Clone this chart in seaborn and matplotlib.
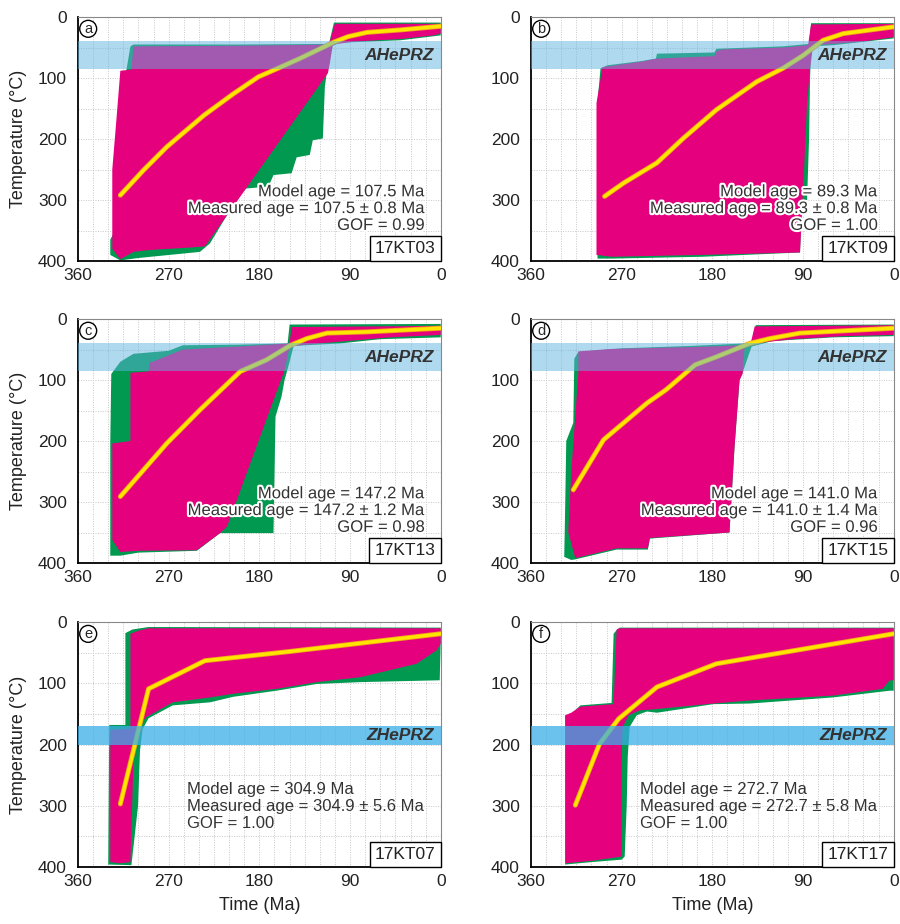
import matplotlib
matplotlib.use("Agg")
import matplotlib.pyplot as plt
import matplotlib.patheffects as pe
from matplotlib.offsetbox import AnchoredText
import numpy as np
import pandas as pd
import seaborn as sns

sns.set_style("white")
plt.rcParams['font.family'] = ['Liberation Sans', 'DejaVu Sans']

# ------------------------------------------------------------------
# data: (time Ma, temperature degC) vertices
# ------------------------------------------------------------------
green_a = [(328, 390), (328, 365), (324, 352), (324, 250), (320, 160), (312, 87), (308, 48), (305, 45),
           (200, 45), (111, 44), (106, 9), (0, 9), (0, 30), (40, 38), (100, 42), (111, 50), (113, 90),
           (115, 114), (117, 199), (127, 202), (130, 226), (143, 230), (148, 256), (166, 259), (171, 278),
           (193, 281), (199, 289), (229, 371), (239, 385), (300, 395), (318, 399)]
pink_a = [(318, 397), (326, 380), (326, 250), (322, 170), (318, 88), (307, 86), (305, 48), (200, 47),
          (111, 45), (105, 11), (0, 11), (0, 27), (7, 30), (40, 36), (85, 40), (107, 45), (110, 75),
          (112, 92), (234, 376), (250, 378), (290, 382), (305, 385)]
path_a = [(318, 292), (295, 251), (272, 213), (235, 161), (206, 126), (181, 98), (163, 85), (140, 68),
          (106, 41), (92, 32), (73, 25), (40, 21), (0, 15)]

green_b = [(294, 396), (294, 140), (291, 84), (284, 79), (250, 72), (236, 68), (235, 60), (178, 58),
           (176, 52), (110, 48), (84, 44), (82, 10), (0, 10), (0, 35), (60, 46), (82, 48), (83, 100),
           (84, 200), (86, 300), (91, 300), (93, 386), (190, 393), (280, 396)]
pink_b = [(295, 390), (295, 141), (290, 92), (289, 82), (250, 73), (235, 68), (178, 64), (176, 56),
          (170, 53), (110, 50), (85, 46), (82, 12), (0, 11), (0, 33), (30, 40), (60, 44), (80, 46),
          (83, 85), (86, 140), (89, 250), (93, 386), (190, 390), (280, 393)]
path_b = [(287, 294), (268, 272), (235, 239), (209, 199), (176, 152), (136, 106), (110, 84), (90, 63),
          (70, 38), (50, 27), (0, 16)]

green_c = [(328, 388), (328, 300), (328, 204), (327, 90), (318, 70), (305, 57), (270, 52), (256, 43),
           (200, 42), (152, 40), (150, 9), (0, 8), (0, 30), (60, 33), (100, 40), (146, 44), (150, 70),
           (155, 100), (158, 127), (164, 160), (166, 351), (219, 351), (242, 380), (300, 383), (318, 388)]
pink_c = [(318, 382), (326, 362), (326, 204), (308, 200), (308, 88), (290, 86), (289, 72), (256, 50),
          (200, 45), (150, 40), (148, 13), (60, 12), (0, 11), (0, 26), (50, 30), (100, 37), (140, 43),
          (150, 45), (155, 84), (212, 340), (219, 351), (242, 379), (300, 380)]
path_c = [(318, 291), (272, 204), (239, 149), (199, 86), (173, 67), (149, 43), (133, 32), (113, 23),
          (73, 21), (0, 15)]

green_d = [(320, 395), (327, 390), (326, 300), (325, 200), (318, 170), (317, 65), (313, 54), (270, 48),
           (200, 44), (148, 40), (139, 40), (137, 10), (0, 9), (0, 28), (60, 30), (120, 36), (141, 45),
           (150, 88), (153, 100), (158, 210), (163, 350), (242, 360), (244, 378), (275, 378), (316, 394)]
pink_d = [(316, 392), (323, 350), (320, 250), (313, 90), (313, 53), (280, 49), (230, 47), (200, 46),
          (150, 43), (142, 40), (138, 12), (60, 11), (0, 10), (0, 26), (50, 28), (100, 33), (128, 38),
          (148, 44), (150, 90), (153, 100), (158, 210), (163, 350), (242, 359), (244, 376), (275, 376)]
path_d = [(318, 280), (288, 198), (245, 138), (226, 116), (197, 75), (176, 62), (143, 40), (123, 32),
          (93, 23), (0, 15)]

green_e = [(307, 397), (330, 396), (329, 168), (313, 168), (313, 18), (306, 12), (290, 8), (0, 9),
           (0, 30), (1, 95), (80, 98), (123, 101), (163, 112), (206, 122), (229, 131), (266, 136),
           (290, 157), (296, 175), (298.5, 210), (300.5, 301), (307, 397)]
pink_e = [(328, 392), (328, 176), (308, 174), (308, 19), (300, 14), (290, 10), (0, 10), (0, 35),
          (4, 46), (24, 68), (80, 90), (123, 98), (163, 109), (206, 117), (229, 123), (266, 131),
          (292, 155), (302, 172), (305, 226), (307, 340), (308, 392), (318, 394)]
path_e = [(318, 297), (290, 109), (234, 63), (150, 48), (0, 19)]

green_f = [(326, 396), (326, 153), (320, 150), (311, 136), (280, 132), (278, 19), (275, 13), (272, 9),
           (0, 9), (0, 112), (4, 112), (60, 123), (143, 133), (179, 134), (235, 148), (245, 146),
           (255, 152), (262, 171), (264, 220), (265, 300), (267, 383), (270, 388), (300, 392)]
pink_f = [(326, 394), (326, 152), (320, 148), (311, 138), (278, 134), (275, 12), (272, 10), (0, 10),
          (0, 95), (4, 95), (11, 109), (60, 120), (143, 128), (179, 133), (242, 143), (252, 144),
          (263, 152), (269, 171), (270, 220), (270, 383), (300, 390)]
path_f = [(316, 299), (292, 199), (273, 158), (235, 106), (176, 68), (0, 19)]

letters = ['a', 'b', 'c', 'd', 'e', 'f']
samples = ['17KT03', '17KT09', '17KT13', '17KT15', '17KT07', '17KT17']
model_ages = ['107.5', '89.3', '147.2', '141.0', '304.9', '272.7']
measured_errs = ['0.8', '0.8', '1.2', '1.4', '5.6', '5.8']
gof = ['0.99', '1.00', '0.98', '0.96', '1.00', '1.00']
prz_names = ['AHePRZ', 'AHePRZ', 'AHePRZ', 'AHePRZ', 'ZHePRZ', 'ZHePRZ']
prz_ranges = [(40, 85), (40, 85), (40, 85), (40, 85), (170, 200), (170, 200)]

greens = [green_a, green_b, green_c, green_d, green_e, green_f]
pinks = [pink_a, pink_b, pink_c, pink_d, pink_e, pink_f]
paths = [path_a, path_b, path_c, path_d, path_e, path_f]

GREEN = '#00994f'
PINK = '#e5007e'
YELLOW = '#ffe500'

fig = plt.figure(figsize=(9, 9.24), dpi=100)
positions = [
    [0.0867, 0.7175, 0.403, 0.264], [0.590, 0.7175, 0.403, 0.264],
    [0.0867, 0.3907, 0.403, 0.264], [0.590, 0.3907, 0.403, 0.264],
    [0.0867, 0.0617, 0.403, 0.265], [0.590, 0.0617, 0.403, 0.265],
]

halo = [pe.withStroke(linewidth=3, foreground='white')]

for i in range(6):
    ax = fig.add_axes(positions[i])

    # dotted grid
    for gx in np.arange(15, 360, 15):
        ax.axvline(gx, color='#c8c8c8', lw=0.7, ls=(0, (1, 1.5)), zorder=0)
    for gy in np.arange(50, 400, 50):
        ax.axhline(gy, color='#c8c8c8', lw=0.7, ls=(0, (1, 1.5)), zorder=0)

    g = np.array(greens[i])
    p = np.array(pinks[i])
    ax.fill(g[:, 0], g[:, 1], color=GREEN, lw=0, zorder=1)
    ax.fill(p[:, 0], p[:, 1], color=PINK, lw=0, zorder=2)

    df = pd.DataFrame(paths[i], columns=['time', 'temp'])
    sns.lineplot(data=df, x='time', y='temp', sort=False, color=YELLOW, lw=2.4, ax=ax, zorder=3,
                 path_effects=[pe.Stroke(linewidth=3.6, foreground='#f0a020'), pe.Normal()])

    lo, hi = prz_ranges[i]
    if i < 4:
        ax.axhspan(lo, hi, color='#5fb4e0', alpha=0.5, lw=0, zorder=4)
    else:
        ax.axhspan(lo, hi, color='#3aaee6', alpha=0.75, lw=0, zorder=4)
    ax.text(7, (lo + hi) / 2, prz_names[i], ha='right', va='center', fontsize=12.5,
            fontweight='bold', fontstyle='italic', color='#333333', zorder=6)

    txt = (f"Model age = {model_ages[i]} Ma\n"
           f"Measured age = {model_ages[i]} \u00b1 {measured_errs[i]} Ma\n"
           f"GOF = {gof[i]}")
    if i < 4:
        ax.text(16, 314, txt, ha='right', va='center', multialignment='right', fontsize=12,
                color='#333333', linespacing=1.15, zorder=6, path_effects=halo)
    else:
        ax.text(252, 301, txt, ha='left', va='center', multialignment='left', fontsize=12,
                color='#333333', linespacing=1.15, zorder=6)

    at = AnchoredText(samples[i], loc='lower right', borderpad=0, pad=0.3,
                      prop=dict(size=12.5, color='#222222'), frameon=True)
    at.patch.set_edgecolor('black')
    at.patch.set_linewidth(1.0)
    at.zorder = 7
    ax.add_artist(at)

    ax.text(0.028, 0.952, letters[i], transform=ax.transAxes, ha='center', va='center',
            fontsize=10.5, zorder=7,
            bbox=dict(boxstyle='circle,pad=0.1', fc='white', ec='black', lw=1.0))

    ax.set_xlim(360, 0)
    ax.set_ylim(400, 0)
    ax.set_xticks([360, 270, 180, 90, 0])
    ax.set_xticks(np.arange(0, 361, 30), minor=True)
    ax.set_yticks([0, 100, 200, 300, 400])
    ax.set_yticks(np.arange(0, 401, 50), minor=True)
    ax.tick_params(axis='both', which='major', direction='in', length=6, width=1.0,
                   labelsize=12.5, colors='black', labelcolor='#222222')
    ax.tick_params(axis='x', which='major', pad=5)
    ax.tick_params(axis='y', which='major', pad=8)
    ax.tick_params(axis='both', which='minor', direction='in', length=4, width=1.0)
    for s in ['left', 'bottom']:
        ax.spines[s].set_color('black')
        ax.spines[s].set_linewidth(1.3)
    for s in ['top', 'right']:
        ax.spines[s].set_color('#888888')
        ax.spines[s].set_linewidth(0.8)

    ax.set_xlabel('Time (Ma)' if i >= 4 else '', fontsize=13, color='#222222', labelpad=6)
    ax.set_ylabel('Temperature (\u00b0C)' if i % 2 == 0 else '', fontsize=13, color='#222222',
                  labelpad=8)

fig.savefig('out.png', dpi=100)
